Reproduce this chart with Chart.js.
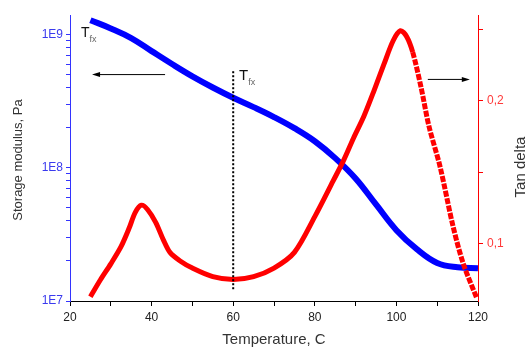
<!DOCTYPE html>
<html>
<head>
<meta charset="utf-8">
<script src="https://cdn.jsdelivr.net/npm/chart.js@4.4.0/dist/chart.umd.min.js"></script>
<style>
  html, body { margin: 0; padding: 0; background: #fff; }
</style>
</head>
<body>
<canvas id="myChart" width="525" height="347"></canvas>
<script>
// storage modulus (left, log axis)
const modTemp = [25, 30, 35, 40, 45, 50, 55, 60, 65, 70, 75, 80, 85, 90, 95, 100, 105, 110, 115, 120];
const modValues = [1.28e9, 1.11e9, 9.4e8, 7.5e8, 6.0e8, 4.85e8, 4.0e8, 3.35e8, 2.85e8, 2.4e8, 1.98e8, 1.58e8,
    1.18e8, 8.3e7, 5.3e7, 3.4e7, 2.45e7, 1.93e7, 1.79e7, 1.76e7];

// tan delta (right axis)
const tanTemp = [25, 27.5, 30, 32.5, 34.5, 36, 37.5, 39, 41, 43, 44.5, 47, 50, 55, 60, 65, 70, 75, 80,
    84.5, 87, 89.5, 92, 94.5, 97, 99.2, 101, 102.5, 104, 106, 108, 110.7, 113.9, 116.4, 119.7];
const tanValues = [0.063, 0.075, 0.086, 0.098, 0.111, 0.122, 0.127, 0.124, 0.115, 0.102, 0.094, 0.088,
    0.083, 0.077, 0.075, 0.077, 0.083, 0.094, 0.119, 0.144, 0.158, 0.174, 0.189, 0.207, 0.226, 0.242,
    0.249, 0.245, 0.234, 0.210, 0.182, 0.154, 0.112, 0.086, 0.062];

// axis ticks
const tempTicks = [20, 30, 40, 50, 60, 70, 80, 90, 100, 110, 120];
const tempLabels = ['20', '', '40', '', '60', '', '80', '', '100', '', '120'];
const modMajor = [1e7, 1e8, 1e9];
const modMajorLabels = ['1E7', '1E8', '1E9'];
const tanTicks = [0.1, 0.15, 0.2, 0.25];
const tanLabels = ['0,1', '', '0,2', ''];

const modTicks = [];
modMajor.forEach(function(d, i) {
    if (i < modMajor.length - 1) {
        for (let m = 1; m < 10; m++) modTicks.push(d * m);
    } else {
        modTicks.push(d);
    }
});

Chart.defaults.font.family = "'Liberation Sans', Arial, sans-serif";

const annotations = {
    id: 'annotations',
    afterDraw(chart) {
        const c = chart.ctx;
        const xs = chart.scales.x, ys = chart.scales.y;
        const px = v => xs.getPixelForValue(v);
        const py = v => ys.getPixelForValue(v);

        c.save();
        // dotted line at 60
        c.strokeStyle = '#000';
        c.lineWidth = 2;
        c.setLineDash([2, 2]);
        c.beginPath();
        c.moveTo(px(60), py(5.3e8));
        c.lineTo(px(60), py(1.2e7));
        c.stroke();
        c.setLineDash([]);

        // arrows
        function arrow(x1, x2, y) {
            const dir = x2 > x1 ? 1 : -1;
            c.lineWidth = 1;
            c.strokeStyle = '#000';
            c.fillStyle = '#000';
            c.beginPath();
            c.moveTo(x1, y);
            c.lineTo(x2 - dir * 5, y);
            c.stroke();
            c.beginPath();
            c.moveTo(x2, y);
            c.lineTo(x2 - dir * 8, y - 2.5);
            c.lineTo(x2 - dir * 8, y + 2.5);
            c.closePath();
            c.fill();
        }
        arrow(px(43.3), px(25.4), py(5.0e8));
        arrow(px(107.7), px(118), py(4.6e8));

        // T_fx labels
        function tfx(x, y, size) {
            c.fillStyle = '#111';
            c.textAlign = 'left';
            c.textBaseline = 'alphabetic';
            c.font = size + "px 'Liberation Sans', Arial, sans-serif";
            c.fillText('T', x, y);
            const w = c.measureText('T').width;
            c.fillStyle = '#666';
            c.font = "9px 'Liberation Sans', Arial, sans-serif";
            c.fillText('fx', x + w, y + 5);
        }
        tfx(81, 37, 14);
        tfx(239, 80, 15);

        // axis titles
        c.fillStyle = '#333';
        c.textAlign = 'center';
        c.textBaseline = 'middle';
        c.font = "15px 'Liberation Sans', Arial, sans-serif";
        c.fillText('Temperature, C', 274, 340);

        c.save();
        c.translate(18, 160);
        c.rotate(-Math.PI / 2);
        c.font = "13px 'Liberation Sans', Arial, sans-serif";
        c.fillText('Storage modulus, Pa', 0, 0);
        c.restore();

        c.save();
        c.translate(521, 167);
        c.rotate(-Math.PI / 2);
        c.font = "15px 'Liberation Sans', Arial, sans-serif";
        c.fillText('Tan delta', 0, 0);
        c.restore();

        c.restore();
    }
};

const myChart = new Chart(document.getElementById('myChart').getContext('2d'), {
    type: 'line',
    data: {
        datasets: [{
            label: 'Storage modulus',
            data: modTemp.map((t, i) => ({ x: t, y: modValues[i] })),
            borderColor: '#0000ff',
            borderWidth: 6,
            pointRadius: 0,
            tension: 0.4,
            yAxisID: 'y',
            order: 1
        }, {
            label: 'Tan delta',
            data: tanTemp.map((t, i) => ({ x: t, y: tanValues[i] })),
            borderColor: '#ff0000',
            borderWidth: 5,
            pointRadius: 0,
            tension: 0.3,
            yAxisID: 'y2',
            order: 0,
            segment: {
                borderDash: s => s.p0.parsed.x >= 104 ? [6, 1.5] : undefined
            }
        }]
    },
    plugins: [annotations],
    options: {
        responsive: false,
        animation: false,
        layout: { padding: { top: 15, left: 0, right: 0, bottom: 0 } },
        plugins: {
            legend: { display: false },
            tooltip: { enabled: false }
        },
        scales: {
            x: {
                type: 'linear',
                min: 20,
                max: 120,
                afterBuildTicks: s => { s.ticks = tempTicks.map(v => ({ value: v })); },
                afterFit: s => { s.height = 46; },
                ticks: {
                    callback: (v, i) => tempLabels[i],
                    color: '#222',
                    font: { size: 12 },
                    padding: 4,
                    maxRotation: 0,
                    autoSkip: false
                },
                grid: { drawOnChartArea: false, tickLength: 5, color: '#000' },
                border: { color: '#000', width: 1 }
            },
            y: {
                type: 'logarithmic',
                position: 'left',
                min: 1e7,
                max: 1.4e9,
                afterBuildTicks: s => { s.ticks = modTicks.map(v => ({ value: v })); },
                afterFit: s => { s.width = 70; },
                ticks: {
                    callback: function(v) {
                        const k = modMajor.indexOf(v);
                        return k >= 0 ? modMajorLabels[k] : '';
                    },
                    color: '#3a3aee',
                    font: { size: 12 },
                    padding: 3,
                    autoSkip: false
                },
                grid: { drawOnChartArea: false, tickLength: 4, color: '#3333ff' },
                border: { color: '#3333ff', width: 1 }
            },
            y2: {
                type: 'linear',
                position: 'right',
                min: 0.06,
                max: 0.26,
                afterBuildTicks: s => { s.ticks = tanTicks.map(v => ({ value: v })); },
                afterFit: s => { s.width = 47; },
                ticks: {
                    callback: (v, i) => tanLabels[i],
                    color: '#ff3a3a',
                    font: { size: 12 },
                    padding: 4,
                    autoSkip: false
                },
                grid: { drawOnChartArea: false, tickLength: 5, color: '#ff0000' },
                border: { color: '#ff0000', width: 1 }
            }
        }
    }
});
</script>
</body>
</html>
